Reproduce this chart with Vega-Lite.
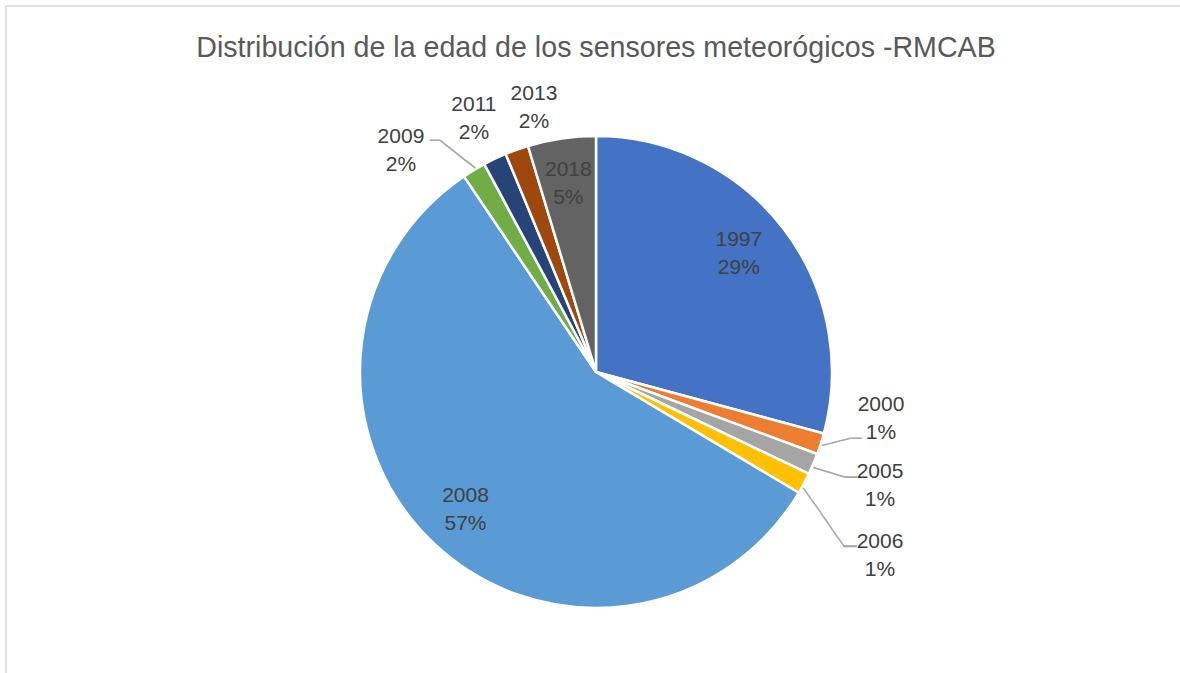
{
  "$schema": "https://vega.github.io/schema/vega-lite/v6.json",
  "width": 1180,
  "height": 732,
  "autosize": {"type": "none"},
  "padding": {"left": 6, "top": 6, "right": 0, "bottom": 0},
  "background": "white",
  "view": {"stroke": "#d9d9d9", "strokeWidth": 1.5},
  "title": {
    "text": "Distribución de la edad de los sensores meteorógicos -RMCAB",
    "orient": "top",
    "frame": "group",
    "anchor": "middle",
    "offset": -57,
    "font": "Liberation Sans",
    "fontSize": 28.6,
    "fontWeight": "normal",
    "color": "#595959"
  },
  "config": {"view": {"stroke": "#d9d9d9", "strokeWidth": 1.5}},
  "data": {
    "values": [
      {"year": "1997", "value": 29.2, "label": "1997\n29%"},
      {"year": "2000", "value": 1.45, "label": "2000\n1%"},
      {"year": "2005", "value": 1.45, "label": "2005\n1%"},
      {"year": "2006", "value": 1.45, "label": "2006\n1%"},
      {"year": "2008", "value": 57.0, "label": "2008\n57%"},
      {"year": "2009", "value": 1.6, "label": "2009\n2%"},
      {"year": "2011", "value": 1.6, "label": "2011\n2%"},
      {"year": "2013", "value": 1.6, "label": "2013\n2%"},
      {"year": "2018", "value": 4.65, "label": "2018\n5%"}
    ]
  },
  "encoding": {
    "theta": {"field": "value", "type": "quantitative", "stack": true},
    "order": {"field": "year", "type": "ordinal"},
    "detail": {"field": "year", "type": "nominal"}
  },
  "layer": [
    {
      "mark": {"type": "arc", "radius": 236, "stroke": "white", "strokeWidth": 2.5},
      "encoding": {
        "color": {
          "field": "year",
          "type": "nominal",
          "scale": {
            "domain": ["1997", "2000", "2005", "2006", "2008", "2009", "2011", "2013", "2018"],
            "range": ["#4472C4", "#ED7D31", "#A5A5A5", "#FFC000", "#5B9BD5", "#70AD47", "#264478", "#9E480E", "#636363"]
          },
          "legend": null
        }
      }
    },
    {
      "mark": {"type": "text", "radius": 190, "dx": -8, "dy": -16.5, "font": "Liberation Sans", "fontSize": 21, "lineHeight": 28, "lineBreak": "\n", "color": "#404040"},
      "encoding": {"text": {"condition": {"test": "datum.year === '1997'", "field": "label", "type": "nominal"}, "value": ""}}
    },
    {
      "mark": {"type": "text", "radius": 190, "dy": -14, "font": "Liberation Sans", "fontSize": 21, "lineHeight": 28, "lineBreak": "\n", "color": "#404040"},
      "encoding": {"text": {"condition": {"test": "datum.year === '2008' || datum.year === '2018'", "field": "label", "type": "nominal"}, "value": ""}}
    },
    {
      "mark": {"type": "text", "radius": 236, "dx": 60.2, "dy": -38.9, "font": "Liberation Sans", "fontSize": 21, "lineHeight": 28, "lineBreak": "\n", "color": "#404040"},
      "encoding": {"text": {"condition": {"test": "datum.year === '2000'", "field": "label", "type": "nominal"}, "value": ""}}
    },
    {
      "mark": {"type": "text", "radius": 236, "dx": 66.7, "dy": 8, "font": "Liberation Sans", "fontSize": 21, "lineHeight": 28, "lineBreak": "\n", "color": "#404040"},
      "encoding": {"text": {"condition": {"test": "datum.year === '2005'", "field": "label", "type": "nominal"}, "value": ""}}
    },
    {
      "mark": {"type": "text", "radius": 236, "dx": 76, "dy": 58.6, "font": "Liberation Sans", "fontSize": 21, "lineHeight": 28, "lineBreak": "\n", "color": "#404040"},
      "encoding": {"text": {"condition": {"test": "datum.year === '2006'", "field": "label", "type": "nominal"}, "value": ""}}
    },
    {
      "mark": {"type": "text", "radius": 236, "dx": -73, "dy": -33, "font": "Liberation Sans", "fontSize": 21, "lineHeight": 28, "lineBreak": "\n", "color": "#404040"},
      "encoding": {"text": {"condition": {"test": "datum.year === '2009'", "field": "label", "type": "nominal"}, "value": ""}}
    },
    {
      "mark": {"type": "text", "radius": 236, "dx": -20.9, "dy": -53.8, "font": "Liberation Sans", "fontSize": 21, "lineHeight": 28, "lineBreak": "\n", "color": "#404040"},
      "encoding": {"text": {"condition": {"test": "datum.year === '2011'", "field": "label", "type": "nominal"}, "value": ""}}
    },
    {
      "mark": {"type": "text", "radius": 236, "dx": 17.2, "dy": -55.7, "font": "Liberation Sans", "fontSize": 21, "lineHeight": 28, "lineBreak": "\n", "color": "#404040"},
      "encoding": {"text": {"condition": {"test": "datum.year === '2013'", "field": "label", "type": "nominal"}, "value": ""}}
    },
    {
      "mark": {"type": "text", "radius": 236, "angle": -14, "dx": 16.1, "dy": 2.5, "font": "DejaVu Sans Mono", "fontSize": 16.8, "color": "#a6a6a6"},
      "encoding": {"text": {"condition": {"test": "datum.year === '2000'", "value": "───"}, "value": ""}}
    },
    {
      "mark": {"type": "text", "radius": 236, "angle": 0, "dx": 35.9, "dy": -5.2, "font": "DejaVu Sans Mono", "fontSize": 16.6, "color": "#a6a6a6"},
      "encoding": {"text": {"condition": {"test": "datum.year === '2000'", "value": "─"}, "value": ""}}
    },
    {
      "mark": {"type": "text", "radius": 236, "angle": 17.5, "dx": 17.8, "dy": 3.5, "font": "DejaVu Sans Mono", "fontSize": 18.4, "color": "#a6a6a6"},
      "encoding": {"text": {"condition": {"test": "datum.year === '2005'", "value": "───"}, "value": ""}}
    },
    {
      "mark": {"type": "text", "radius": 236, "angle": 0, "dx": 37.9, "dy": 13.7, "font": "DejaVu Sans Mono", "fontSize": 20, "color": "#a6a6a6"},
      "encoding": {"text": {"condition": {"test": "datum.year === '2005'", "value": "─"}, "value": ""}}
    },
    {
      "mark": {"type": "text", "radius": 236, "angle": 55.2, "dx": 38.8, "dy": 3.9, "font": "DejaVu Sans Mono", "fontSize": 16.9, "color": "#a6a6a6"},
      "encoding": {"text": {"condition": {"test": "datum.year === '2006'", "value": "───────"}, "value": ""}}
    },
    {
      "mark": {"type": "text", "radius": 236, "angle": 0, "dx": 46, "dy": 63.3, "font": "DejaVu Sans Mono", "fontSize": 22, "color": "#a6a6a6"},
      "encoding": {"text": {"condition": {"test": "datum.year === '2006'", "value": "─"}, "value": ""}}
    },
    {
      "mark": {"type": "text", "radius": 236, "angle": 0, "dx": -39, "dy": -29.3, "font": "DejaVu Sans Mono", "fontSize": 16.6, "color": "#a6a6a6"},
      "encoding": {"text": {"condition": {"test": "datum.year === '2009'", "value": "─"}, "value": ""}}
    },
    {
      "mark": {"type": "text", "radius": 236, "angle": 38.3, "dx": -22.6, "dy": -1.9, "font": "DejaVu Sans Mono", "fontSize": 18.5, "color": "#a6a6a6"},
      "encoding": {"text": {"condition": {"test": "datum.year === '2009'", "value": "────"}, "value": ""}}
    }
  ]
}
